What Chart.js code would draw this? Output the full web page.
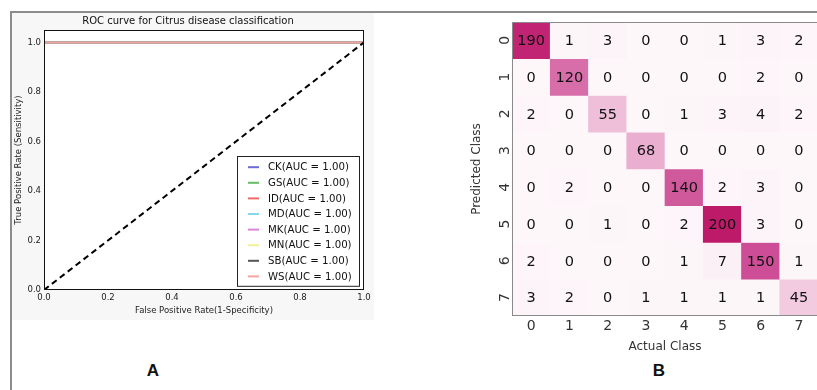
<!doctype html>
<html>
<head>
<title>Citrus disease classification</title>
<script src="https://cdn.jsdelivr.net/npm/chart.js@4.4.1/dist/chart.umd.min.js"></script>
<style>
body { margin: 0; width: 817px; height: 390px; overflow: hidden; background: #fff; }
#frame { position: absolute; left: 10px; top: 11px; width: 900px; height: 400px; border-left: 2px solid #8c8c8c; border-top: 2px solid #8c8c8c; }
#rocBox { position: absolute; left: 12px; top: 13px; width: 362px; height: 307px; background: #f7f7f7; }
#cmBox { position: absolute; left: 420px; top: 0; width: 400px; height: 360px; }
.panel { position: absolute; top: 361px; line-height: 20px; font: bold 17px 'Liberation Sans', Arial, sans-serif; transform: translateX(-50%); color: #111; }
</style>
</head>
<body>
	<div id="frame"></div>
	<div id="rocBox"><canvas id="roc"></canvas></div>
	<div id="cmBox"><canvas id="cm"></canvas></div>
	<div class="panel" style="left:153px">A</div>
	<div class="panel" style="left:659px">B</div>
	<script>
		// ROC panel data
		const rocClasses = ['CK', 'GS', 'ID', 'MD', 'MK', 'MN', 'SB', 'WS'];
		const rocAuc = [1.00, 1.00, 1.00, 1.00, 1.00, 1.00, 1.00, 1.00];
		const rocFpr = [0, 0, 1];
		const rocTpr = [0, 1, 1];
		const chanceFpr = [0, 1];
		const chanceTpr = [0, 1];
		const rocColors = ['#6b6bd6', '#66bb66', '#f06a6a', '#86d8e8', '#d986d9', '#f3f09c', '#555555', '#f2a59f'];

		// confusion matrix data (rows = predicted, cols = actual)
		const cmLabels = ['0', '1', '2', '3', '4', '5', '6', '7'];
		const cmRows = [
			[190, 1, 3, 0, 0, 1, 3, 2],
			[0, 120, 0, 0, 0, 0, 2, 0],
			[2, 0, 55, 0, 1, 3, 4, 2],
			[0, 0, 0, 68, 0, 0, 0, 0],
			[0, 2, 0, 0, 140, 2, 3, 0],
			[0, 0, 1, 0, 2, 200, 3, 0],
			[2, 0, 0, 0, 1, 7, 150, 1],
			[3, 2, 0, 1, 1, 1, 1, 45]
		];

		const colorStops = [
			[0, [253, 247, 250]],
			[50, [241, 198, 222]],
			[100, [221, 132, 182]],
			[150, [205, 78, 150]],
			[200, [190, 26, 106]]
		];
		function cellColor(v) {
			for (let k = 1; k < colorStops.length; k++) {
				const [v1, c1] = colorStops[k];
				const [v0, c0] = colorStops[k - 1];
				if (v <= v1) {
					const t = (v - v0) / (v1 - v0);
					const c = c0.map((x, n) => Math.round(x + (c1[n] - x) * t));
					return 'rgb(' + c.join(',') + ')';
				}
			}
			return 'rgb(' + colorStops[colorStops.length - 1][1].join(',') + ')';
		}

		const rocFrame = {
			id: 'rocFrame',
			beforeDatasetsDraw(chart) {
				const a = chart.chartArea, ctx = chart.ctx;
				ctx.save();
				ctx.fillStyle = '#fff';
				ctx.fillRect(a.left, a.top, a.right - a.left, a.bottom - a.top);
				ctx.restore();
			},
			afterDatasetsDraw(chart) {
				const a = chart.chartArea, ctx = chart.ctx;
				ctx.save();
				ctx.strokeStyle = '#111';
				ctx.lineWidth = 1;
				ctx.strokeRect(a.left + 0.5, a.top + 0.5, a.right - a.left - 1, a.bottom - a.top - 1);

				// legend, lower right
				const items = chart.data.datasets.filter(d => d.inLegend !== false);
				const w = 122, rowH = 15.6, h = items.length * rowH + 5;
				const x0 = a.right - 5 - w, y0 = a.bottom - 4 - h;
				ctx.fillStyle = '#fff';
				ctx.fillRect(x0, y0, w, h);
				ctx.strokeStyle = '#222';
				ctx.strokeRect(Math.round(x0) + 0.5, Math.round(y0) + 0.5, w, h);
				ctx.font = '10.2px "DejaVu Sans"';
				ctx.textBaseline = 'middle';
				ctx.textAlign = 'left';
				items.forEach((d, i) => {
					const cy = y0 + 11 + i * rowH;
					ctx.strokeStyle = d.borderColor;
					ctx.lineWidth = 2;
					ctx.beginPath();
					ctx.moveTo(x0 + 11, cy);
					ctx.lineTo(x0 + 22, cy);
					ctx.stroke();
					ctx.fillStyle = '#111';
					ctx.fillText(d.label, x0 + 31, cy + 0.5);
				});
				ctx.restore();
			}
		};

		// last class drawn on top, as in the original plot
		const rocDatasets = rocClasses.map((c, i) => ({
			label: c + '(AUC = ' + rocAuc[i].toFixed(2) + ')',
			data: rocFpr.map((x, k) => ({x: x, y: rocTpr[k]})),
			borderColor: rocColors[i],
			borderWidth: 1.5,
			pointRadius: 0,
			tension: 0,
			order: rocClasses.length - i
		}));
		rocDatasets.push({
			label: 'chance',
			inLegend: false,
			data: chanceFpr.map((x, k) => ({x: x, y: chanceTpr[k]})),
			borderColor: '#000',
			borderWidth: 2,
			borderDash: [6, 4],
			pointRadius: 0,
			order: 0
		});

		const tickFont = {family: 'DejaVu Sans', size: 8.5};

		new Chart(document.getElementById('roc'), {
			type: 'line',
			data: {datasets: rocDatasets},
			options: {
				responsive: true,
				maintainAspectRatio: false,
				animation: false,
				events: [],
				layout: {padding: {right: 10}},
				plugins: {
					legend: {display: false},
					tooltip: {enabled: false},
					title: {
						display: true,
						text: 'ROC curve for Citrus disease classification',
						color: '#111',
						font: {family: 'DejaVu Sans', size: 10, weight: 'normal'},
						padding: {top: 2, bottom: 3}
					}
				},
				scales: {
					x: {
						type: 'linear',
						min: 0,
						max: 1,
						grid: {display: false, drawTicks: false},
						border: {display: false},
						ticks: {stepSize: 0.2, padding: 3, color: '#222', font: tickFont, maxRotation: 0,
							callback: v => v.toFixed(1)},
						title: {display: true, text: 'False Positive Rate(1-Specificity)', color: '#222',
							font: {family: 'DejaVu Sans', size: 8.5}, padding: {top: 0, bottom: 4}},
						afterFit: s => { s.height = 30; }
					},
					y: {
						min: 0,
						max: 1.05,
						grid: {display: false, drawTicks: false},
						border: {display: false},
						ticks: {stepSize: 0.2, includeBounds: false, padding: 3, color: '#222', font: tickFont,
							callback: v => v.toFixed(1)},
						title: {display: true, text: 'True Positive Rate (Sensitivity)', color: '#222',
							font: {family: 'DejaVu Sans', size: 8.5}, padding: {top: 2, bottom: 0}},
						afterFit: s => { s.width = 32; }
					}
				}
			},
			plugins: [rocFrame]
		});

		const cmCells = {
			id: 'cmCells',
			afterDatasetsDraw(chart) {
				const ctx = chart.ctx, a = chart.chartArea;
				ctx.save();
				ctx.font = '14.5px "DejaVu Sans"';
				ctx.fillStyle = '#111';
				ctx.textAlign = 'center';
				ctx.textBaseline = 'middle';
				chart.data.datasets.forEach((ds, i) => {
					chart.getDatasetMeta(i).data.forEach((bar, j) => {
						const p = bar.getProps(['x', 'y', 'base'], true);
						ctx.fillText(String(ds.values[j]), p.x, (p.y + p.base) / 2 + 1);
					});
				});
				ctx.strokeStyle = '#8a8a8a';
				ctx.lineWidth = 1;
				ctx.strokeRect(a.left + 0.5, a.top + 0.5, a.right - a.left, a.bottom - a.top - 1);
				ctx.restore();
			}
		};

		const cmDatasets = cmRows.map((row, i) => ({
			label: 'Predicted ' + cmLabels[i],
			values: row,
			data: row.map(() => [i, i + 1]),
			backgroundColor: row.map(cellColor),
			borderWidth: 0,
			barPercentage: 1,
			categoryPercentage: 1,
			grouped: false
		}));

		new Chart(document.getElementById('cm'), {
			type: 'bar',
			data: {labels: cmLabels, datasets: cmDatasets},
			options: {
				responsive: true,
				maintainAspectRatio: false,
				animation: false,
				events: [],
				layout: {padding: {top: 22, right: 2}},
				plugins: {legend: {display: false}, tooltip: {enabled: false}},
				scales: {
					x: {
						grid: {display: false, drawTicks: false},
						border: {display: false},
						ticks: {padding: 2, color: '#333', font: {family: 'DejaVu Sans', size: 14}, maxRotation: 0},
						title: {display: true, text: 'Actual Class', color: '#333',
							font: {family: 'DejaVu Sans', size: 12}, padding: {top: 0, bottom: 6}},
						afterFit: s => { s.height = 44; }
					},
					y: {
						min: 0,
						max: 8,
						reverse: true,
						grid: {display: false, drawTicks: false},
						border: {display: false},
						afterBuildTicks: s => { s.ticks = cmLabels.map((l, i) => ({value: i + 0.5})); },
						ticks: {padding: 2, crossAlign: 'center', minRotation: 90, maxRotation: 90, color: '#333',
							font: {family: 'DejaVu Sans', size: 14},
							callback: v => cmLabels[Math.floor(v)]},
						title: {display: true, text: 'Predicted Class', color: '#333',
							font: {family: 'DejaVu Sans', size: 12}, padding: {top: 50, bottom: 0}},
						afterFit: s => { s.width = 92; }
					}
				}
			},
			plugins: [cmCells]
		});
	</script>
</body>
</html>
